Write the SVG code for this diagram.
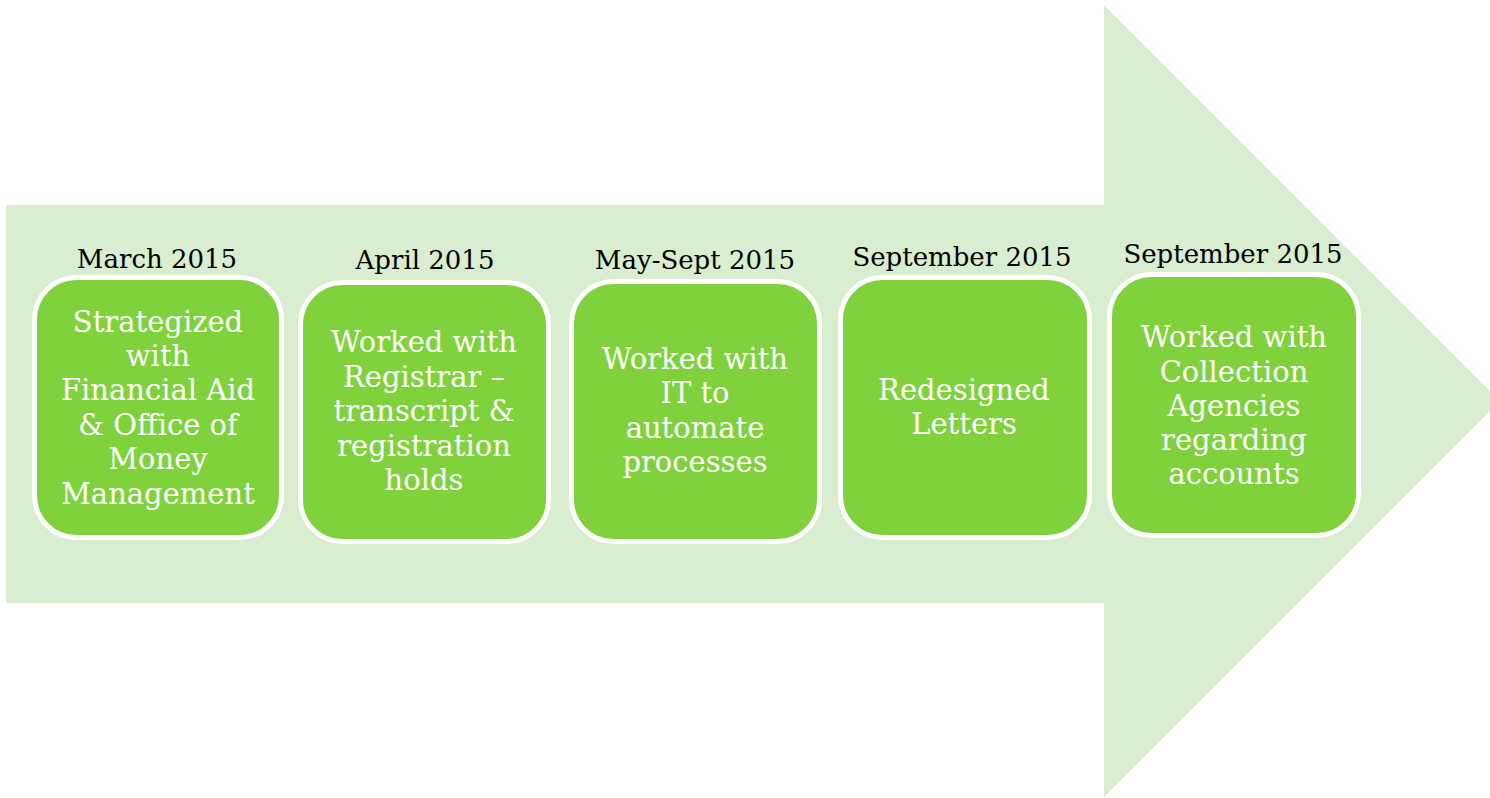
<svg xmlns="http://www.w3.org/2000/svg" width="1490" height="798" viewBox="0 0 1490 798">
<style>
.date{font-family:"DejaVu Serif","Liberation Serif",serif;font-size:26px;fill:#000;text-anchor:middle}
.box{fill:#80D23C;stroke:#fff;stroke-width:5}
.txt{font-family:"DejaVu Serif","Liberation Serif",serif;font-size:29px;fill:#fff;text-anchor:middle}
</style>
<rect width="1490" height="798" fill="#fff"/>
<g id="arrow">
<polygon points="6,205 1104,205 1104,5 1500,401 1104,797 1104,603 6,603" fill="#D9EDD0"/>
</g>
<g id="connectors"></g>
<g id="node1">
<text class="date" x="157" y="268">March 2015</text>
<rect class="box" x="34.5" y="277.5" width="247" height="260" rx="42"/>
<text class="txt" x="158" y="332">Strategized</text>
<text class="txt" x="158" y="366">with</text>
<text class="txt" x="158" y="400">Financial Aid</text>
<text class="txt" x="158" y="435">&amp; Office of</text>
<text class="txt" x="158" y="469">Money</text>
<text class="txt" x="158" y="504">Management</text>
</g>
<g id="node2">
<text class="date" x="425" y="269">April 2015</text>
<rect class="box" x="300.5" y="282.5" width="248" height="259" rx="42"/>
<text class="txt" x="424" y="352">Worked with</text>
<text class="txt" x="424" y="387">Registrar –</text>
<text class="txt" x="424" y="421">transcript &amp;</text>
<text class="txt" x="424" y="456">registration</text>
<text class="txt" x="424" y="490">holds</text>
</g>
<g id="node3">
<text class="date" x="695" y="269">May-Sept 2015</text>
<rect class="box" x="571.5" y="281.5" width="248" height="260" rx="42"/>
<text class="txt" x="695" y="369">Worked with</text>
<text class="txt" x="695" y="403">IT to</text>
<text class="txt" x="695" y="438">automate</text>
<text class="txt" x="695" y="472">processes</text>
</g>
<g id="node4">
<text class="date" x="962" y="266">September 2015</text>
<rect class="box" x="840.5" y="277.5" width="249" height="260" rx="42"/>
<text class="txt" x="964" y="400">Redesigned</text>
<text class="txt" x="964" y="434">Letters</text>
</g>
<g id="node5">
<text class="date" x="1233" y="263">September 2015</text>
<rect class="box" x="1109.5" y="274.5" width="249" height="261" rx="42"/>
<text class="txt" x="1234" y="347">Worked with</text>
<text class="txt" x="1234" y="382">Collection</text>
<text class="txt" x="1234" y="416">Agencies</text>
<text class="txt" x="1234" y="450">regarding</text>
<text class="txt" x="1234" y="484">accounts</text>
</g>
</svg>
